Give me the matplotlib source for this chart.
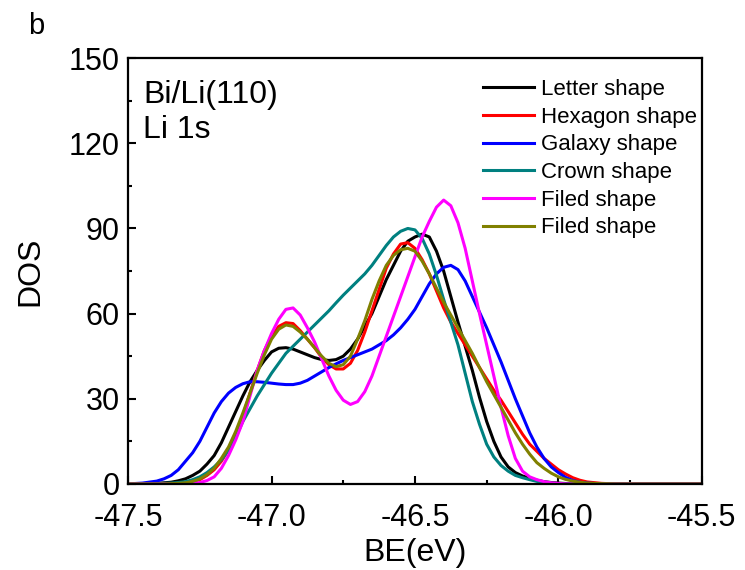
import numpy as np
import matplotlib
matplotlib.use("Agg")
import matplotlib.pyplot as plt
from matplotlib.ticker import MultipleLocator

plt.rcParams['font.family'] = ['Liberation Sans', 'DejaVu Sans']

# binding energy (eV), read every 0.025 eV where the curves move
be = [-47.50, -47.45, -47.400, -47.375, -47.350, -47.325, -47.300, -47.275, -47.250, -47.225,
      -47.200, -47.175, -47.150, -47.125, -47.100, -47.075, -47.050, -47.025, -47.000, -46.975,
      -46.950, -46.925, -46.900, -46.875, -46.850, -46.825, -46.800, -46.775, -46.750, -46.725,
      -46.700, -46.675, -46.650, -46.625, -46.600, -46.575, -46.550, -46.525, -46.500, -46.475,
      -46.450, -46.425, -46.400, -46.375, -46.350, -46.325, -46.300, -46.275, -46.250, -46.225,
      -46.200, -46.175, -46.150, -46.125, -46.100, -46.075, -46.050, -46.025, -46.000, -45.975,
      -45.950, -45.925, -45.900, -45.85, -45.80, -45.70, -45.60, -45.50]

letter = [0, 0, 0.2, 0.4, 0.6, 1.1, 1.8, 3, 4.5, 7,
          10, 14.5, 20, 25.5, 31, 36, 40, 43.5, 46.5, 47.8,
          48, 47.5, 46.5, 45.5, 44.5, 43.8, 43.5, 43.8, 45, 47.5,
          51, 55.5, 60, 66, 72, 77, 82, 85.5, 87, 88,
          87, 82, 75, 66, 57, 48.5, 40, 30.5, 22, 15,
          9.5, 6, 4, 2.8, 2, 1.3, 0.8, 0.5, 0.3, 0.15,
          0, 0, 0, 0, 0, 0, 0, 0]
hexagon = [0, 0, 0, 0, 0.1, 0.2, 0.4, 0.8, 1.5, 3,
           5, 8, 12, 17.5, 24, 32, 40, 47, 52, 55.5,
           56.8, 56.5, 54, 51, 48, 44.5, 42, 40.5, 40.5, 42.5,
           47, 53.5, 61, 68.5, 76, 81, 84.5, 85, 83, 79,
           74, 68, 62, 57, 53, 49, 45, 41, 37, 33,
           29.5, 25.5, 21.5, 17.5, 14, 11.5, 9, 7, 5, 3.5,
           2.2, 1.3, 0.7, 0.2, 0, 0, 0, 0]
galaxy = [0, 0.3, 1, 1.8, 3, 5, 8, 11, 15, 20,
          25, 29, 32, 34, 35.3, 36, 36, 35.8, 35.5, 35.2,
          35, 35, 35.5, 36.5, 38, 39.5, 41, 42.3, 43.5, 44.5,
          45.5, 46.5, 47.5, 49, 50.5, 52.5, 55, 58, 61.5, 66,
          70.5, 74, 76.3, 77, 75.5, 71.5, 66, 60.5, 55, 49,
          43, 36.5, 30, 24, 18, 13, 9, 6, 4, 2.3,
          1.2, 0.6, 0.3, 0, 0, 0, 0, 0]
crown = [0, 0, 0.1, 0.2, 0.3, 0.5, 0.8, 1.5, 2.5, 4,
         6, 8.5, 12, 16.5, 22, 26.5, 31, 35, 39, 42.5,
         46, 48.5, 51, 53.5, 56, 58.5, 61, 63.8, 66.5, 69,
         71.5, 74, 77, 80.5, 84, 87, 89, 90, 89.5, 86.5,
         81, 73.5, 65, 57, 49, 39, 29, 21, 14, 9.5,
         6.5, 4.5, 3, 2.2, 1.5, 0.9, 0.5, 0.3, 0.1, 0,
         0, 0, 0, 0, 0, 0, 0, 0]
filed1 = [0, 0, 0, 0, 0, 0, 0, 0.1, 0.5, 1.2,
          2.5, 5.5, 10, 15.5, 22, 31, 40, 47, 53, 58,
          61.5, 62, 59.5, 55, 50, 44, 38, 33, 29.5, 28,
          29, 32.5, 38, 45, 52, 59, 66, 73, 80, 87,
          92.5, 97.5, 100, 98, 92, 83, 71.5, 60, 49, 38,
          27, 17, 9, 4.5, 2.5, 1.5, 0.8, 0.4, 0.2, 0,
          0, 0, 0, 0, 0, 0, 0, 0]
filed2 = [0, 0, 0, 0, 0.1, 0.2, 0.4, 0.9, 1.8, 3.3,
          5.5, 9, 13, 18.5, 25, 32, 39, 45.5, 51, 54.5,
          56, 55.5, 53.5, 51, 48, 45, 42.5, 41.3, 42, 45,
          51, 57.5, 65, 71.5, 77, 80.5, 82.5, 83, 82, 78.5,
          74, 69, 64, 59.5, 55, 50.5, 46, 41, 36, 31.5,
          27, 22.5, 18, 14, 10.5, 7.5, 5.5, 3.8, 2.5, 1.6,
          1, 0.6, 0.3, 0.1, 0, 0, 0, 0]

names = ["Letter shape", "Hexagon shape", "Galaxy shape", "Crown shape",
         "Filed shape", "Filed shape"]
colors = ["black", "red", "blue", "#008080", "magenta", "#808000"]
series = [letter, hexagon, galaxy, crown, filed1, filed2]

fig = plt.figure(figsize=(7.45, 5.70), dpi=100)
ax = fig.add_axes([0.172, 0.151, 0.770, 0.747])

for ys, c, n in zip(series, colors, names):
    ax.plot(be, ys, color=c, lw=2.2, label=n, solid_joinstyle='round')

ax.set_xlim(-47.5, -45.5)
ax.set_ylim(0, 150)
ax.set_xticks([-47.5, -47.0, -46.5, -46.0, -45.5])
ax.set_xticklabels(["-47.5", "-47.0", "-46.5", "-46.0", "-45.5"])
ax.xaxis.set_minor_locator(MultipleLocator(0.25))
ax.yaxis.set_major_locator(MultipleLocator(30))
ax.yaxis.set_minor_locator(MultipleLocator(15))
ax.tick_params(which='both', direction='in', width=1.5, labelsize=22)
ax.tick_params(which='major', length=6)
ax.tick_params(which='minor', length=3)
ax.tick_params(axis='x', pad=14)
ax.tick_params(axis='y', pad=6)
for s in ax.spines.values():
    s.set_linewidth(1.6)

ax.set_xlabel("BE(eV)", fontsize=23, labelpad=3)
ax.set_ylabel("DOS", fontsize=23, labelpad=17)

ax.text(0.026, 0.913, "Bi/Li(110)", transform=ax.transAxes, fontsize=23, va='center')
ax.text(0.026, 0.831, "Li 1s", transform=ax.transAxes, fontsize=23, va='center')
fig.text(0.038, 0.955, "b", fontsize=21, va='center')

ax.legend(loc='upper right', bbox_to_anchor=(1.007, 0.972), frameon=False, fontsize=16,
          handlelength=2.3, handletextpad=0.3, labelspacing=0.30, borderaxespad=0)

fig.savefig("out.png", dpi=100)
